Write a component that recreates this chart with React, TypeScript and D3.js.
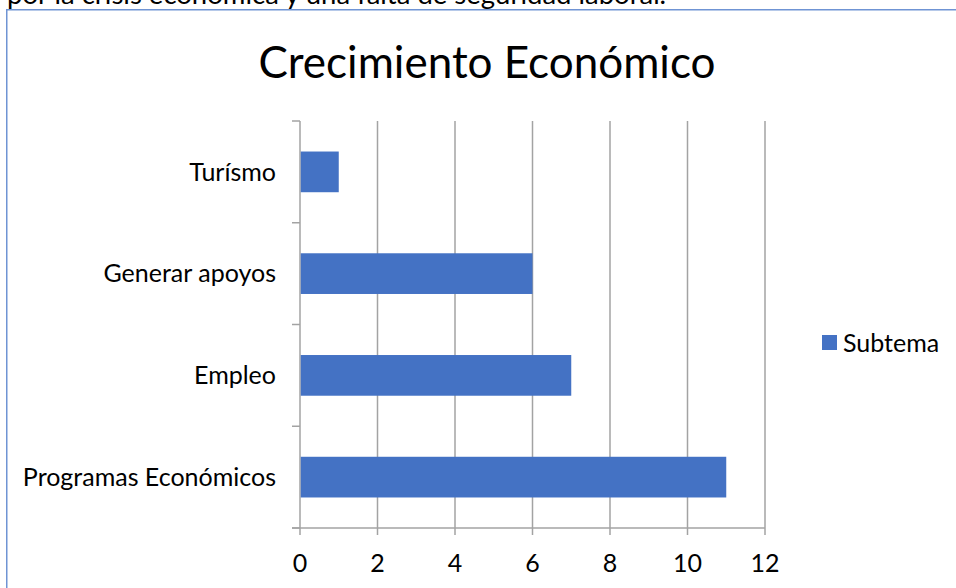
import React from "react";
import * as d3 from "d3";

const categories = ["Turísmo", "Generar apoyos", "Empleo", "Programas Económicos"];
const values = [1, 6, 7, 11];
const xTicks = [0, 2, 4, 6, 8, 10, 12];
const seriesName = "Subtema";
const title = "Crecimiento Económico";
const paragraph = "por la crisis económica y una falta de seguridad laboral.";

const W = 956;
const H = 588;
const left = 300;
const right = 765;
const top = 121;
const bottom = 528;
const font = "Lato, 'Open Sans', sans-serif";
const grid = "#a3a3a3";

export default function App() {
  const x = d3.scaleLinear().domain([0, 12]).range([left, right]);
  const y = d3.scaleBand<string>().domain(categories).range([top, bottom]).paddingInner(0.6).paddingOuter(0.3);
  const band = (bottom - top) / categories.length;
  const catTicks = d3.range(categories.length + 1).map((i) => top + i * band);

  return (
    <div style={{ position: "fixed", left: 0, top: 0, width: W, height: H, background: "#fff" }}>
      <svg width={W} height={H} style={{ display: "block" }}>
        <text x={7} y={4} fontFamily={font} fontSize={27.5} fill="#000">{paragraph}</text>
        <rect x={6.75} y={9.75} width={W + 10} height={H + 10} fill="#fff" stroke="#6f94d4" strokeWidth={1.5} />
        <text x={487} y={78} textAnchor="middle" fontFamily={font} fontSize={44} fill="#000">{title}</text>
        {xTicks.slice(1).map((t) => (
          <line key={"g" + t} x1={x(t)} x2={x(t)} y1={top} y2={bottom + 7} stroke={grid} strokeWidth={1.5} />
        ))}
        <line x1={x(0)} x2={x(0)} y1={top} y2={bottom + 7} stroke={grid} strokeWidth={1.5} />
        <line x1={left - 8} x2={right} y1={bottom} y2={bottom} stroke={grid} strokeWidth={1.5} />
        {catTicks.map((t, i) => (
          <line key={"c" + i} x1={left - 8} x2={left} y1={t} y2={t} stroke={grid} strokeWidth={1.5} />
        ))}
        {categories.map((c, i) => (
          <rect key={c} x={x(0) + 0.75} y={y(c)!} width={x(values[i]) - x(0) - 0.75} height={y.bandwidth()} fill="#4472c4" />
        ))}
        {categories.map((c) => (
          <text key={"l" + c} x={276} y={y(c)! + y.bandwidth() / 2} dy="0.35em" textAnchor="end" fontFamily={font} fontSize={25} fill="#000">{c}</text>
        ))}
        {xTicks.map((t) => (
          <text key={"t" + t} x={x(t)} y={563} dy="0.35em" textAnchor="middle" fontFamily={font} fontSize={25} fill="#000">{t}</text>
        ))}
        <rect x={822} y={335} width={15} height={15} fill="#4472c4" />
        <text x={843} y={343} dy="0.35em" fontFamily={font} fontSize={25} fill="#000">{seriesName}</text>
      </svg>
    </div>
  );
}
